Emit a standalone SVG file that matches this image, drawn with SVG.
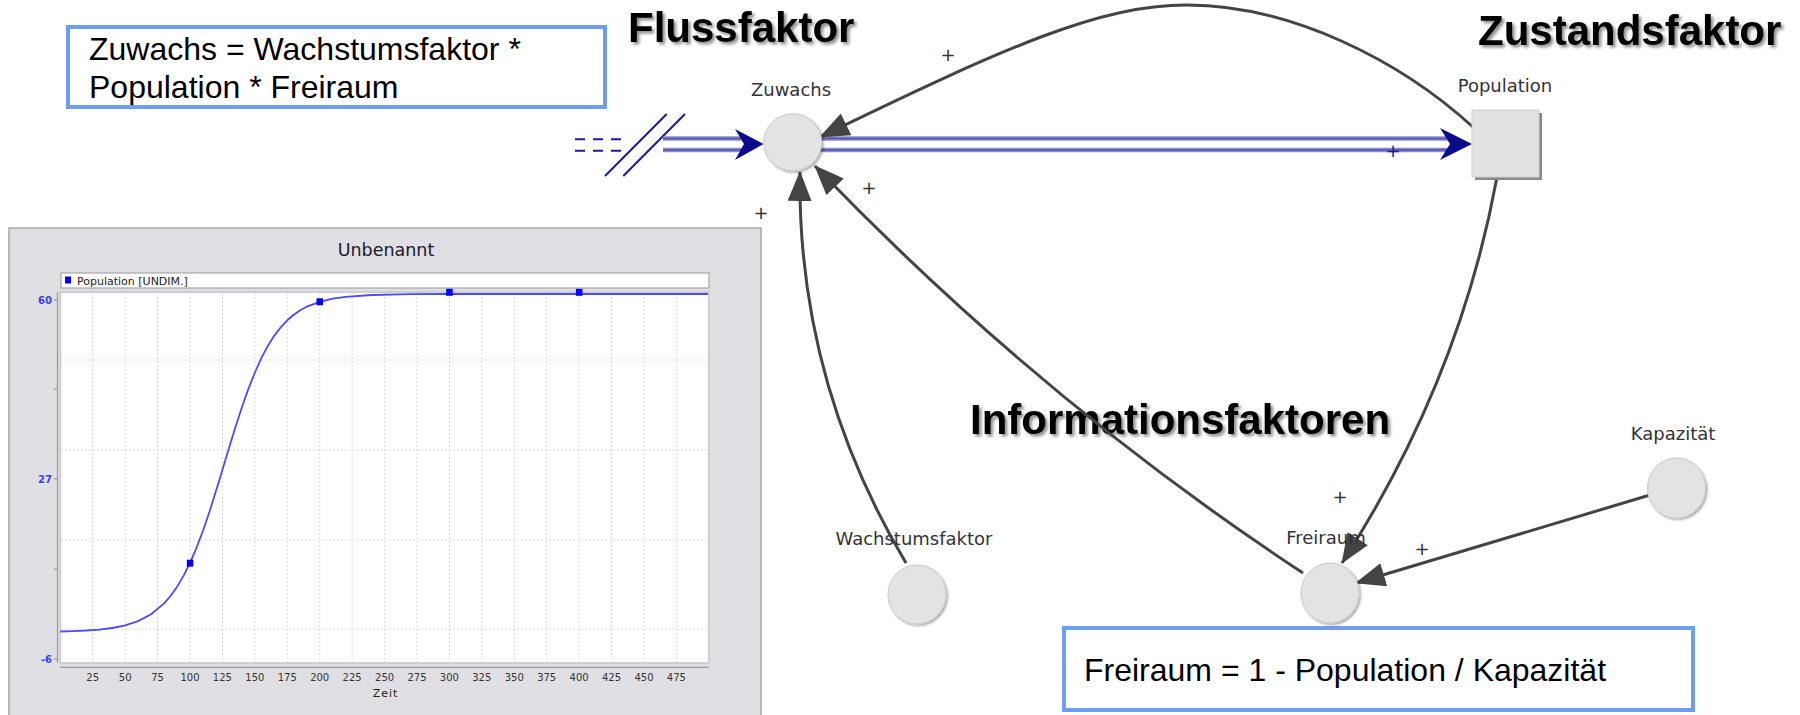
<svg xmlns="http://www.w3.org/2000/svg" width="1800" height="715" viewBox="0 0 1800 715">
<defs>
<style>
.lbl{font-family:"DejaVu Sans",sans-serif;font-size:18px;fill:#333;text-anchor:middle}
.plus{font-family:"DejaVu Sans",sans-serif;font-size:18px;fill:#333;text-anchor:middle}
.title{font-family:"Liberation Sans",Arial,sans-serif;font-weight:bold;font-size:42px;fill:#000;filter:url(#tsh)}
.formula{font-family:"Liberation Sans",Arial,sans-serif;font-size:32px;fill:#000}
.box{fill:#fff;stroke:#6f9df2;stroke-width:4}
.node{fill:#e3e3e3;stroke:#cacaca;stroke-width:1;filter:url(#nsh)}
.link{fill:none;stroke:#444;stroke-width:3;marker-end:url(#ah)}
.flowb{stroke:#8a8ad0;stroke-width:4.5;fill:none}
.flowc{stroke:#5454a8;stroke-width:1.5;fill:none}
.navy{stroke:#1c1c90;stroke-width:2;fill:none}
.ax{font-family:"DejaVu Sans",sans-serif;font-size:10px;fill:#333;text-anchor:middle}
.ay{font-family:"DejaVu Sans",sans-serif;font-size:10px;fill:#3a3aff;text-anchor:end;font-weight:bold}
.grid{stroke:#dadada;stroke-width:1;stroke-dasharray:2,2}
.mk{fill:#0000ff}
</style>
<filter id="tsh" x="-10%" y="-30%" width="130%" height="170%"><feDropShadow dx="2.5" dy="2.5" stdDeviation="1.5" flood-color="#000" flood-opacity="0.45"/></filter>
<filter id="nsh" x="-20%" y="-20%" width="150%" height="150%"><feDropShadow dx="1.5" dy="1.5" stdDeviation="1" flood-color="#000" flood-opacity="0.35"/></filter>
<marker id="ah" markerUnits="userSpaceOnUse" markerWidth="34" markerHeight="26" refX="29" refY="12" orient="auto"><path d="M0,0 L30,12 L0,24 z" fill="#444"/></marker>
</defs>
<rect width="1800" height="715" fill="#fff"/>

<g id="chart">
<rect x="9" y="228" width="752" height="492" fill="#dfdfe4" stroke="#a8a8a8" stroke-width="1.5"/>
<text x="386" y="256" style="font-family:'DejaVu Sans',sans-serif;font-size:17.5px;fill:#1a1a2a;text-anchor:middle">Unbenannt</text>
<rect x="61" y="273" width="648" height="15" fill="#fff" stroke="#999" stroke-width="1"/>
<rect x="65" y="276.5" width="6" height="7" class="mk"/>
<text x="77" y="285" style="font-family:'DejaVu Sans',sans-serif;font-size:11px;fill:#222">Population [UNDIM.]</text>
<rect x="60.3" y="292" width="648.5" height="371" fill="#fff" stroke="#cfcfcf" stroke-width="2"/>
<g class="grid">
<line x1="92.7" y1="293" x2="92.7" y2="662"/><line x1="125.2" y1="293" x2="125.2" y2="662"/><line x1="157.6" y1="293" x2="157.6" y2="662"/><line x1="190" y1="293" x2="190" y2="662"/><line x1="222.4" y1="293" x2="222.4" y2="662"/><line x1="254.9" y1="293" x2="254.9" y2="662"/><line x1="287.3" y1="293" x2="287.3" y2="662"/><line x1="319.7" y1="293" x2="319.7" y2="662"/><line x1="352.1" y1="293" x2="352.1" y2="662"/><line x1="384.6" y1="293" x2="384.6" y2="662"/><line x1="417" y1="293" x2="417" y2="662"/><line x1="449.4" y1="293" x2="449.4" y2="662"/><line x1="481.8" y1="293" x2="481.8" y2="662"/><line x1="514.3" y1="293" x2="514.3" y2="662"/><line x1="546.7" y1="293" x2="546.7" y2="662"/><line x1="579.1" y1="293" x2="579.1" y2="662"/><line x1="611.5" y1="293" x2="611.5" y2="662"/><line x1="644" y1="293" x2="644" y2="662"/><line x1="676.4" y1="293" x2="676.4" y2="662"/>
<line x1="61" y1="360" x2="708" y2="360"/><line x1="61" y1="450" x2="708" y2="450"/><line x1="61" y1="540" x2="708" y2="540"/><line x1="61" y1="629" x2="708" y2="629"/>
</g>
<g stroke="#999" stroke-width="1.2">
<line x1="57.5" y1="292" x2="57.5" y2="663"/>
<line x1="54" y1="300" x2="57.5" y2="300"/><line x1="54" y1="389" x2="57.5" y2="389"/><line x1="54" y1="479" x2="57.5" y2="479"/><line x1="54" y1="569" x2="57.5" y2="569"/><line x1="54" y1="659" x2="57.5" y2="659"/>
<line x1="60" y1="667.3" x2="709" y2="667.3"/>
</g>
<text class="ay" x="52" y="304">60</text>
<text class="ay" x="52" y="482.5">27</text>
<text class="ay" x="52" y="663">-6</text>
<g class="ax">
<text x="92.7" y="681">25</text><text x="125.2" y="681">50</text><text x="157.6" y="681">75</text><text x="190" y="681">100</text><text x="222.4" y="681">125</text><text x="254.9" y="681">150</text><text x="287.3" y="681">175</text><text x="319.7" y="681">200</text><text x="352.1" y="681">225</text><text x="384.6" y="681">250</text><text x="417" y="681">275</text><text x="449.4" y="681">300</text><text x="481.8" y="681">325</text><text x="514.3" y="681">350</text><text x="546.7" y="681">375</text><text x="579.1" y="681">400</text><text x="611.5" y="681">425</text><text x="644" y="681">450</text><text x="676.4" y="681">475</text>
</g>
<text x="385.5" y="697" style="font-family:'DejaVu Sans',sans-serif;font-size:11px;fill:#222;text-anchor:middle;letter-spacing:1px">Zeit</text>
<polyline fill="none" stroke="#4c4cf0" stroke-width="1.8" stroke-linejoin="round" points="60.3,631.5 73.3,631.1 86.2,630.5 99.2,629.6 112.2,628 125.2,625.4 138.1,621.1 151.1,614.2 164.1,603.4 170.5,596 177,586.9 183.5,575.9 190,562.9 196.5,547.8 203,530.7 209.5,511.7 215.9,491.2 222.4,469.9 228.9,448.3 235.4,427.3 241.9,407.3 248.4,388.9 254.9,372.5 261.3,358.2 267.8,345.9 274.3,335.6 280.8,327.2 287.3,320.3 293.8,314.7 300.2,310.3 306.7,306.7 319.7,301.8 332.7,298.7 345.6,296.8 371.6,295 410.5,294.2 449.4,294 708,294"/>
<rect class="mk" x="186.8" y="559.7" width="6.5" height="7"/>
<rect class="mk" x="316.5" y="298.3" width="6.5" height="7"/>
<rect class="mk" x="446.2" y="288.8" width="6.5" height="7"/>
<rect class="mk" x="575.9" y="288.8" width="6.5" height="7"/>
</g>

<g id="formula-zuwachs">
<rect class="box" x="68" y="27" width="537" height="80"/>
<text class="formula" x="89" y="60">Zuwachs = Wachstumsfaktor *</text>
<text class="formula" x="89" y="98">Population * Freiraum</text>
</g>

<g id="formula-freiraum">
<rect class="box" x="1064" y="628" width="629" height="82"/>
<text class="formula" x="1084" y="681">Freiraum = 1 - Population / Kapazität</text>
</g>

<g id="titles">
<text class="title" x="628" y="42">Flussfaktor</text>
<text class="title" x="1478" y="45">Zustandsfaktor</text>
<text class="title" x="970" y="434">Informationsfaktoren</text>
</g>

<g id="connectors">
<g id="flow">
<line class="navy" x1="575" y1="139.3" x2="628" y2="139.3" stroke-dasharray="10,8"/>
<line class="navy" x1="575" y1="150.7" x2="628" y2="150.7" stroke-dasharray="10,8"/>
<line class="navy" x1="605" y1="176" x2="666.7" y2="114"/>
<line class="navy" x1="623.3" y1="176" x2="685" y2="114"/>
<line class="flowb" x1="663" y1="138.5" x2="745" y2="138.5"/>
<line class="flowb" x1="663" y1="150" x2="745" y2="150"/>
<line class="flowc" x1="663" y1="138.5" x2="745" y2="138.5"/>
<line class="flowc" x1="663" y1="150" x2="745" y2="150"/>
<polygon points="735,129 763.5,144 735,160 744,144" fill="#0a0a8a"/>
<line class="flowb" x1="800" y1="138.5" x2="1450" y2="138.5"/>
<line class="flowb" x1="800" y1="150" x2="1450" y2="150"/>
<line class="flowc" x1="800" y1="138.5" x2="1450" y2="138.5"/>
<line class="flowc" x1="800" y1="150" x2="1450" y2="150"/>
<polygon points="1440,128 1472,144 1440,160 1450,144" fill="#0a0a8a"/>
<text x="1393" y="157" style="font-family:'DejaVu Sans',sans-serif;font-size:18px;fill:#1c1c90;text-anchor:middle">+</text>
</g>
<path class="link" d="M 1474 128 C 1400 60, 1290 5, 1187 5 C 1100 5, 1010 45, 820 137"/>
<path class="link" d="M 906 563 Q 797 380 800 172"/>
<path class="link" d="M 1303 573 Q 1040 400 815 166"/>
<path class="link" d="M 1497 177 Q 1460 380 1342 563"/>
<path class="link" d="M 1650 495 L 1356 583"/>
<text class="plus" x="948" y="61">+</text>
<text class="plus" x="761" y="219">+</text>
<text class="plus" x="869" y="194">+</text>
<text class="plus" x="1340" y="503">+</text>
<text class="plus" x="1422" y="555">+</text>
</g>

<g id="node-zuwachs">
<ellipse class="node" cx="792.7" cy="142.3" rx="29" ry="28.5"/>
<text class="lbl" x="791" y="96">Zuwachs</text>
</g>
<g id="node-population">
<rect x="1475" y="113" width="67" height="67" fill="#8a8a8a"/>
<rect x="1472" y="110" width="67" height="67" fill="#e2e2e2" stroke="#d0d0d0" stroke-width="1"/>
<text class="lbl" x="1505" y="92">Population</text>
</g>
<g id="node-wachstumsfaktor">
<ellipse class="node" cx="917" cy="594.5" rx="29" ry="29.5"/>
<text class="lbl" x="914" y="545">Wachstumsfaktor</text>
</g>
<g id="node-freiraum">
<ellipse class="node" cx="1330" cy="593" rx="29" ry="30"/>
<text class="lbl" x="1326" y="544">Freiraum</text>
</g>
<g id="node-kapazitaet">
<ellipse class="node" cx="1676.5" cy="488" rx="29" ry="30"/>
<text class="lbl" x="1673" y="440">Kapazität</text>
</g>
</svg>
